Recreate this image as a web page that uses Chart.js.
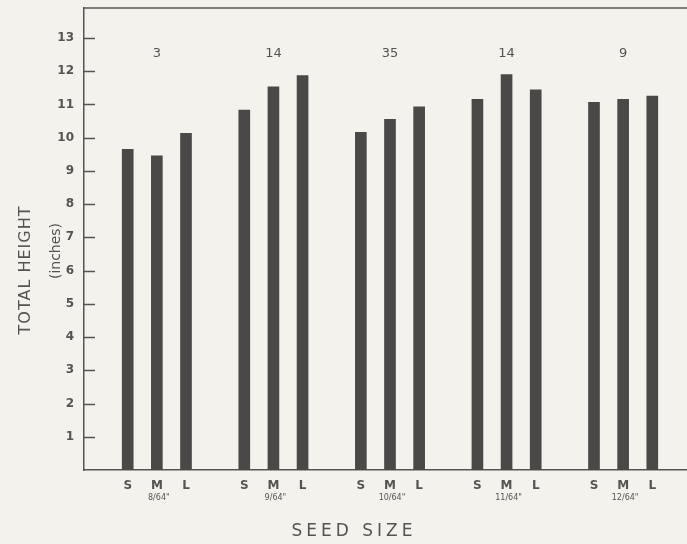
<!DOCTYPE html>
<html lang="en">
<head>
    <meta charset="UTF-8">
    <title>Total height by seed size</title>
    <style>
        html, body { margin: 0; padding: 0; overflow: hidden; background: #f4f2ed; }
    </style>
</head>
<body>
<canvas id="myChart" width="696" height="544"></canvas>
<script src="https://cdn.jsdelivr.net/npm/chart.js"></script>
<script>
    const seedGroups = ['8/64"', '9/64"', '10/64"', '11/64"', '12/64"'];
    const sizeClasses = ['S', 'M', 'L'];
    const smallSeed = [9.65, 10.83, 10.16, 11.15, 11.06];
    const mediumSeed = [9.45, 11.53, 10.55, 11.9, 11.15];
    const largeSeed = [10.13, 11.87, 10.93, 11.44, 11.25];
    const counts = [3, 14, 35, 14, 9];
    const yTicks = [1, 2, 3, 4, 5, 6, 7, 8, 9, 10, 11, 12, 13];

    // one empty slot before each group (and one at the end) keeps the groups apart
    const labels = [];
    const heights = [];
    const middleSlot = [];
    seedGroups.forEach(function(g, i) {
        labels.push('');
        heights.push(null);
        [smallSeed, mediumSeed, largeSeed].forEach(function(arr, j) {
            if (j === 1) middleSlot.push(labels.length);
            labels.push(sizeClasses[j]);
            heights.push(arr[i]);
        });
    });
    labels.push('');
    heights.push(null);

    const ink = '#545452';

    const decorations = {
        id: 'decorations',
        beforeDraw(chart) {
            const c = chart.ctx;
            c.save();
            c.fillStyle = '#f4f2ed';
            c.fillRect(0, 0, chart.width, chart.height);
            c.restore();
        },
        afterDraw(chart) {
            const c = chart.ctx;
            const area = chart.chartArea;
            const x = chart.scales.x;
            const y = chart.scales.y;
            c.save();
            c.strokeStyle = ink;
            c.lineWidth = 1.5;
            // top frame line
            c.beginPath();
            c.moveTo(area.left, area.top);
            c.lineTo(area.right, area.top);
            c.stroke();
            // tick dashes point into the plot
            yTicks.forEach(function(v) {
                const py = Math.round(y.getPixelForValue(v)) + 0.5;
                c.beginPath();
                c.moveTo(area.left, py);
                c.lineTo(area.left + 11, py);
                c.stroke();
            });
            c.fillStyle = ink;
            c.textAlign = 'center';
            c.textBaseline = 'middle';
            // sample counts above each group
            c.font = '13px "DejaVu Sans"';
            counts.forEach(function(n, i) {
                c.fillText(String(n), x.getPixelForValue(middleSlot[i]), y.getPixelForValue(12.53));
            });
            // seed size under each group
            c.font = '8px "DejaVu Sans"';
            seedGroups.forEach(function(g, i) {
                c.fillText(g, x.getPixelForValue(middleSlot[i]) + 2, area.bottom + 28);
            });
            // axis titles
            c.font = '17px "DejaVu Sans"';
            c.letterSpacing = '4px';
            c.fillText('SEED SIZE', 354, 532);
            c.letterSpacing = '1px';
            c.save();
            c.translate(26, 270);
            c.rotate(-Math.PI / 2);
            c.font = '16px "DejaVu Sans"';
            c.fillText('TOTAL HEIGHT', 0, 0);
            c.restore();
            c.save();
            c.translate(56, 251);
            c.rotate(-Math.PI / 2);
            c.letterSpacing = '0px';
            c.font = '14px "DejaVu Sans"';
            c.fillText('(inches)', 0, 0);
            c.restore();
            c.restore();
        }
    };

    new Chart(document.getElementById('myChart'), {
        type: 'bar',
        data: {
            labels: labels,
            datasets: [{
                data: heights,
                backgroundColor: '#4b4948',
                barThickness: 11
            }]
        },
        options: {
            responsive: false,
            animation: false,
            layout: { padding: { top: 8 } },
            plugins: {
                legend: { display: false },
                tooltip: { enabled: false }
            },
            scales: {
                x: {
                    grid: { display: false },
                    border: { color: ink, width: 1.5 },
                    ticks: {
                        color: ink,
                        font: { family: 'DejaVu Sans', size: 12, weight: 'bold' },
                        padding: 1,
                        maxRotation: 0,
                        autoSkip: false
                    },
                    afterFit(scale) { scale.height = 74; }
                },
                y: {
                    min: 0,
                    max: 13.9,
                    grid: { display: false, drawTicks: false },
                    border: { color: ink, width: 1.5 },
                    ticks: {
                        stepSize: 1,
                        color: ink,
                        padding: 10,
                        font: { family: 'DejaVu Sans', size: 12, weight: 'bold' },
                        callback: function(v) { return yTicks.includes(v) ? v : ''; }
                    },
                    afterFit(scale) {
                        scale.width = 84;
                        scale.paddingTop = 0;
                        scale.paddingBottom = 0;
                    }
                }
            }
        },
        plugins: [decorations]
    });
</script>
</body>
</html>
